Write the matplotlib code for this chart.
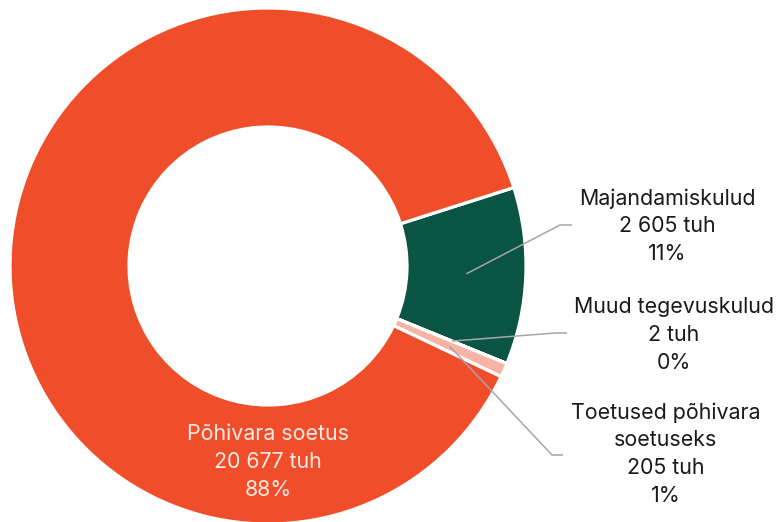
import numpy as np
import matplotlib.pyplot as plt

plt.rcParams['font.family'] = ['Inter', 'DejaVu Sans']

# andmed (tuh eurot)
kategooriad = ['Majandamiskulud', 'Muud tegevuskulud', 'Toetused põhivara\nsoetuseks', 'Põhivara soetus']
summad = [2605, 2, 205, 20677]
protsendid = ['11%', '0%', '1%', '88%']
varvid = ['#0A5443', '#F04E2B', '#F7B4A4', '#F04E2B']

fig = plt.figure(figsize=(7.77, 5.22), dpi=100)
ax = fig.add_axes([0, 0, 1, 1])

keskpunkt = (268, 256)
raadius = 258
laius = 119

wedges, _ = ax.pie(summad, colors=varvid, startangle=17.7, counterclock=False,
                   center=keskpunkt, radius=raadius, frame=True,
                   wedgeprops=dict(width=laius, edgecolor='white', linewidth=2.3))
ax.set_xlim(0, 777)
ax.set_ylim(0, 522)
ax.set_aspect('equal')
ax.axis('off')

def silt(i):
    return f"{kategooriad[i]}\n{summad[i]:,} tuh\n{protsendid[i]}".replace(',', ' ')

# välised sildid: (küünarnuki x, y), joone lõpp x, teksti keskpunkt
valised = {
    0: ((560, 297), 572, (667, 296)),
    1: ((555, 189), 567, (674, 187)),
    2: ((552, 67), 563, (666, 68)),
}
r_kesk = raadius - laius / 2
for i, (kyynar, lopp_x, tekst_xy) in valised.items():
    w = wedges[i]
    nurk = np.deg2rad((w.theta1 + w.theta2) / 2)
    x0 = keskpunkt[0] + r_kesk * np.cos(nurk)
    y0 = keskpunkt[1] + r_kesk * np.sin(nurk)
    ax.plot([x0, kyynar[0], lopp_x], [y0, kyynar[1], kyynar[1]],
            color='#A6A6A6', linewidth=1.1, solid_capstyle='butt')
    ax.text(tekst_xy[0], tekst_xy[1], silt(i), ha='center', va='center',
            fontsize=15.4, color='#1A1A1A', linespacing=1.48)

# sisemine silt
ax.text(268, 60, silt(3), ha='center', va='center', fontsize=15.4,
        color='#FCEAE4', linespacing=1.48)

plt.savefig('out.png', dpi=100)
